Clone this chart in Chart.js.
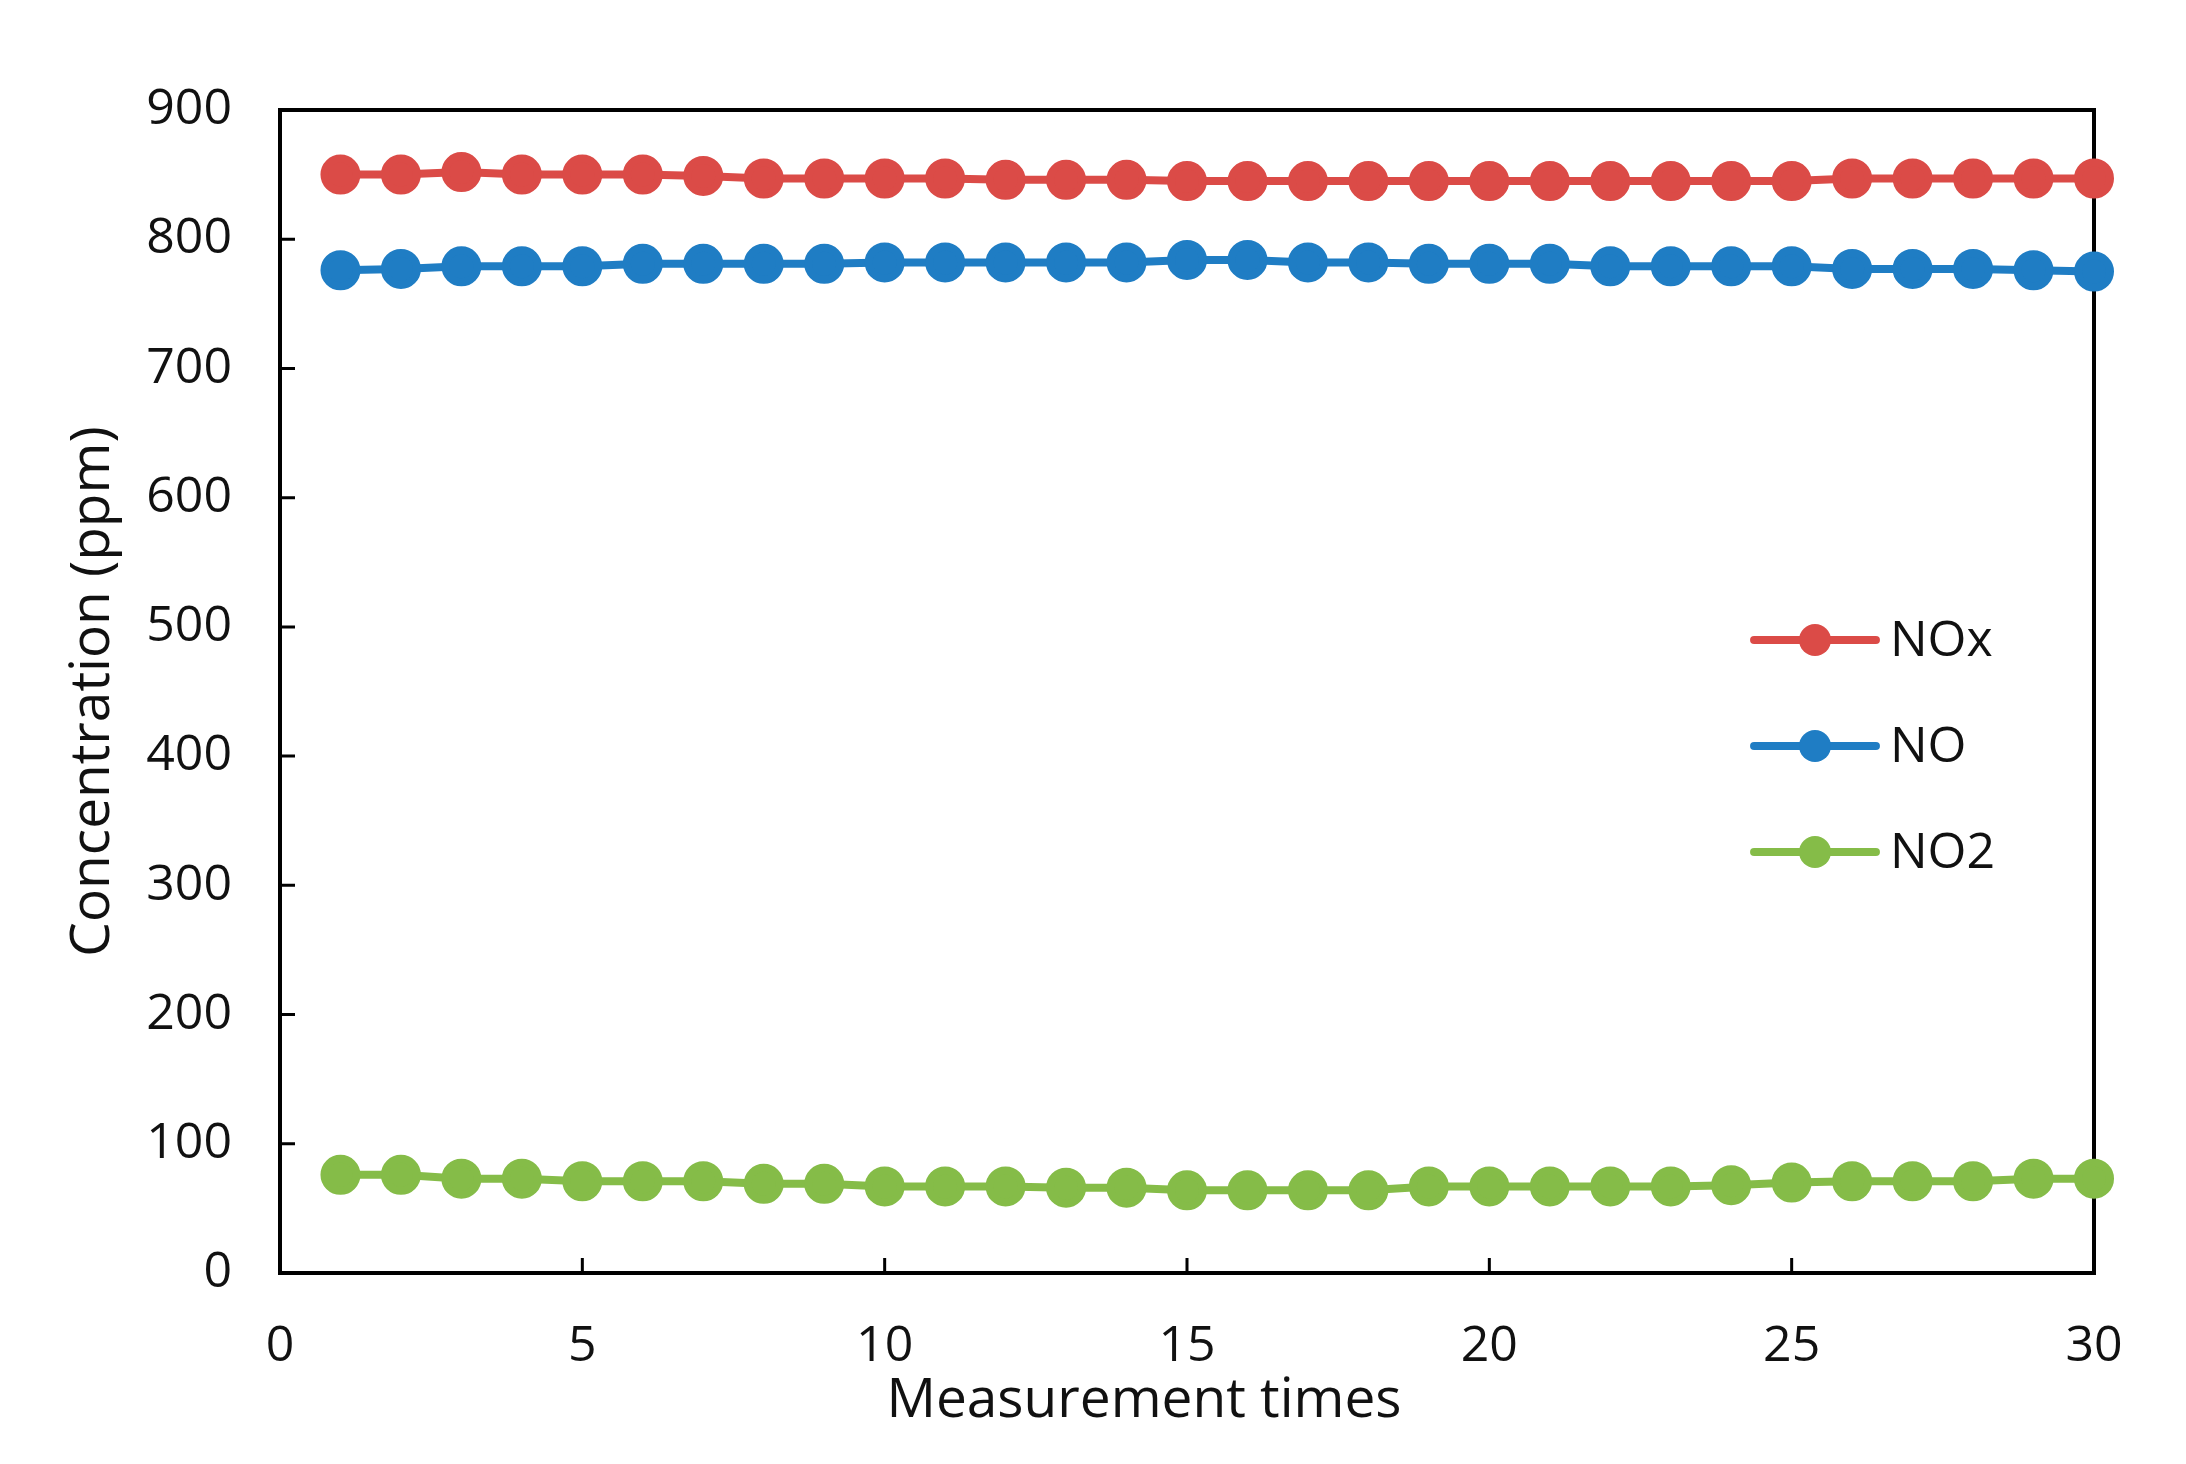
<!DOCTYPE html>
<html lang="en">
<head>
    <meta charset="UTF-8">
    <title>NOx / NO / NO2 concentration</title>
    <style>
      html, body { margin: 0; padding: 0; background: #fff; }
      .chart-container { width: 2186px; height: 1464px; }
    </style>
</head>
<body>
    <script src="https://cdn.jsdelivr.net/npm/chart.js"></script>

    <div class="chart-container">
        <canvas id="conc-chart"></canvas>
    </div>

<script>
// data block
const measurementTimes = [1, 2, 3, 4, 5, 6, 7, 8, 9, 10, 11, 12, 13, 14, 15,
                          16, 17, 18, 19, 20, 21, 22, 23, 24, 25, 26, 27, 28, 29, 30];
const noxValues = [850, 850, 852, 850, 850, 850, 849, 847, 847, 847, 847, 846, 846, 846, 845,
                   845, 845, 845, 845, 845, 845, 845, 845, 845, 845, 847, 847, 847, 847, 847];
const noValues  = [776, 777, 779, 779, 779, 781, 781, 781, 781, 782, 782, 782, 782, 782, 784,
                   784, 782, 782, 781, 781, 781, 779, 779, 779, 779, 777, 777, 777, 776, 775];
const no2Values = [76, 76, 73, 73, 71, 71, 71, 69, 69, 67, 67, 67, 66, 66, 64,
                   64, 64, 64, 67, 67, 67, 67, 67, 68, 70, 71, 71, 71, 73, 73];
const seriesNames = ['NOx', 'NO', 'NO2'];
const seriesColors = ['#DB4B47', '#1F7DC4', '#85BC48'];
const xTicks = [0, 5, 10, 15, 20, 25, 30];
const yTicks = [0, 100, 200, 300, 400, 500, 600, 700, 800, 900];
const xTitle = 'Measurement times';
const yTitle = 'Concentration (ppm)';

const FONT = "'Open Sans', 'Noto Sans', sans-serif";

function toPoints(values) {
  return values.map((v, i) => ({ x: measurementTimes[i], y: v }));
}

function makeSet(label, values, color) {
  return {
    label: label,
    data: toPoints(values),
    borderColor: color,
    backgroundColor: color,
    pointBackgroundColor: color,
    pointBorderColor: color,
    pointRadius: 16,
    pointHoverRadius: 16,
    borderWidth: 8,
    tension: 0,
    clip: false
  };
}

// frame + inward tick marks (Excel style)
const frameTicks = {
  id: 'frameTicks',
  beforeDatasetsDraw(chart) {
    const { ctx, chartArea: { left, right, top, bottom } } = chart;
    const xs = chart.scales.x, ys = chart.scales.y;
    ctx.save();
    ctx.strokeStyle = '#000';
    ctx.lineWidth = 4;
    ctx.strokeRect(left, top, right - left, bottom - top);
    ctx.lineWidth = 3;
    ctx.beginPath();
    xTicks.forEach(t => {
      const px = xs.getPixelForValue(t);
      ctx.moveTo(px, bottom);
      ctx.lineTo(px, bottom - 15);
    });
    yTicks.forEach(t => {
      const py = ys.getPixelForValue(t);
      ctx.moveTo(left, py);
      ctx.lineTo(left + 15, py);
    });
    ctx.stroke();
    ctx.restore();

    // x axis title sits a little left of the plot centre in the original
    ctx.save();
    ctx.fillStyle = '#111';
    ctx.font = `55px ${FONT}`;
    ctx.textAlign = 'center';
    ctx.textBaseline = 'middle';
    ctx.fillText(xTitle, (left + right) / 2 - 43, bottom + 128);
    ctx.restore();
  }
};

// legend drawn inside the plot area on the right
const insideLegend = {
  id: 'insideLegend',
  afterDatasetsDraw(chart) {
    const { ctx, chartArea: { left, top, width, height } } = chart;
    ctx.save();
    chart.data.datasets.forEach((ds, i) => {
      const y = top + height * 0.4557 + i * 106;
      const x0 = left + width * 0.8126;
      const x1 = left + width * 0.8798;
      const xm = left + width * 0.8462;
      ctx.strokeStyle = ds.borderColor;
      ctx.lineWidth = 8;
      ctx.lineCap = 'round';
      ctx.beginPath();
      ctx.moveTo(x0, y);
      ctx.lineTo(x1, y);
      ctx.stroke();
      ctx.fillStyle = ds.borderColor;
      ctx.beginPath();
      ctx.arc(xm, y, 16, 0, Math.PI * 2);
      ctx.fill();
      ctx.fillStyle = '#111';
      ctx.font = `50px ${FONT}`;
      ctx.textAlign = 'left';
      ctx.textBaseline = 'middle';
      ctx.fillText(ds.label, left + width * 0.8875, y + 2);
    });
    ctx.restore();
  }
};

const config = {
  type: 'line',
  data: {
    datasets: [
      makeSet(seriesNames[0], noxValues, seriesColors[0]),
      makeSet(seriesNames[1], noValues, seriesColors[1]),
      makeSet(seriesNames[2], no2Values, seriesColors[2])
    ]
  },
  options: {
    responsive: false,
    animation: false,
    layout: { padding: { left: 60, right: 92, top: 110, bottom: 36 } },
    plugins: {
      legend: { display: false },
      tooltip: { enabled: false }
    },
    scales: {
      x: {
        type: 'linear',
        min: 0,
        max: 30,
        afterBuildTicks(scale) { scale.ticks = xTicks.map(v => ({ value: v })); },
        afterFit(scale) { scale.height = 155; },
        grid: { display: false, drawTicks: false },
        border: { display: false },
        ticks: { color: '#111', font: { size: 50, family: FONT }, padding: 44, maxRotation: 0 },
        title: { display: false, text: xTitle }
      },
      y: {
        min: 0,
        max: 900,
        afterBuildTicks(scale) { scale.ticks = yTicks.map(v => ({ value: v })); },
        afterFit(scale) { scale.width = 220; },
        grid: { display: false, drawTicks: false },
        border: { display: false },
        ticks: { color: '#111', font: { size: 50, family: FONT }, padding: 48 },
        title: {
          display: true,
          text: yTitle,
          color: '#111',
          font: { size: 55, family: FONT },
          padding: 0
        }
      }
    }
  },
  plugins: [frameTicks, insideLegend]
};

const canvas = document.getElementById('conc-chart');
canvas.width = 2186;
canvas.height = 1464;
const myChart = new Chart(canvas, config);
</script>
</body>
</html>
